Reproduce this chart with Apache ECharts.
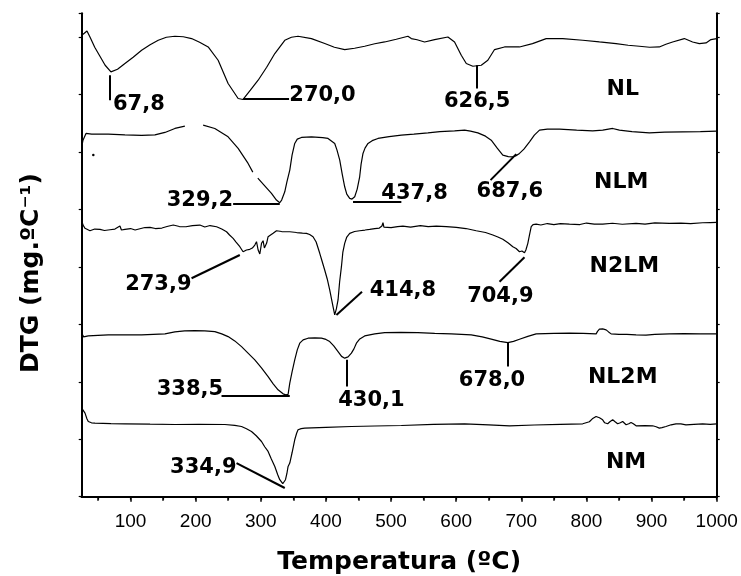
<!DOCTYPE html>
<html><head><meta charset="utf-8">
<script src="https://cdn.jsdelivr.net/npm/echarts@6/dist/echarts.min.js"></script>
<style>html,body{margin:0;padding:0;background:#fff}#c{width:741px;height:576px}</style>
</head><body><div id="c"></div>
<script>
// x tick labels (°C)
const xTickLabels = [100,200,300,400,500,600,700,800,900,1000];
const xMinorTicks = [50,150,250,350,450,550,650,750,850,950];
const xTopTicks = [50,100,150,200,250,300,350,400,450,500,550,600,650,700,750,800,850,900,950,1000];

// DTG curves (temperature °C, stacked DTG signal in arbitrary offset units)
const curveNL = [[25,462],[29,464],[33.1,466.3],[37.7,460.3],[45,450],[53,441],[61,432],[69.9,425.3],[80,428],[91.4,433.7],[104,440],[117,447],[130,452.5],[142.5,457],[155,460],[168.1,461],[181,460.5],[193.7,458.7],[206,455],[219.2,450.3],[234.5,437],[249.8,413.7],[265.2,398.7],[272.8,397.7],[284,407],[295.9,417],[309,430],[321.5,443.7],[336.8,457],[347,460],[357.2,461],[377.8,458.7],[398.2,453.7],[413,450],[428.8,447.7],[444,449],[459.5,451],[475,453.5],[490.2,455.3],[508,458],[525.9,461],[531.1,458.7],[540,457.5],[551.5,455.3],[566.9,457.7],[587.3,460.3],[597.5,455.3],[607.8,442],[615.5,433.7],[625.6,431],[632,431.5],[638.5,432],[648.6,437],[658.9,447.7],[674.2,450.3],[697.2,450.3],[717.2,453.7],[738.2,458.7],[763.6,458.7],[794.3,457],[819.9,455.3],[845.5,453.7],[864,452],[881.3,451],[897,450],[911.9,450.3],[922,453],[932.3,455.3],[950.3,458.7],[963,455.3],[973.3,453.7],[983.6,454.3],[991.2,457.7],[1000,458.7]];
const curveNLM = [[25,350.3],[27,357],[31.6,363.7],[40.3,363],[65.8,363],[91.4,362.3],[117,361.7],[137.4,362.3],[152.8,364.7],[168.1,368.7],[183.4,371],[184.5,null],[211.5,372],[229.4,368.7],[249.8,360.3],[265.2,348.7],[280.5,333.7],[287.7,325],[290,null],[295.4,319],[305,312],[316.4,303.7],[324,297],[329.1,294.3],[332,297],[336.8,305.3],[340,315],[344.5,327],[348,342],[352.1,353.7],[356,358],[362.4,359.7],[377.8,360.3],[395,359.5],[403.2,358.7],[413.5,353.7],[417,347],[421.2,337],[425,323],[428.8,310.3],[432,303],[436.5,298.7],[440,298],[444.2,300.3],[448,308],[451.8,320.3],[454,333],[456.9,343.7],[460,349],[464.6,353.7],[471,356.5],[479.9,358.7],[497,360.5],[515.8,362],[535,363],[556.6,364.3],[575,365.5],[597.5,366.3],[612.9,367],[622,366],[633.3,364.3],[645,361],[653.8,357],[663,349],[671.6,342],[680,340.5],[687,340.3],[692,341.5],[697.2,343.7],[704,348],[712.6,355.3],[720,362],[727.9,367],[740,368],[758.6,368],[785,367],[809.6,366.3],[825,367],[840.3,368.7],[850.6,367],[870,365.5],[896.6,364.3],[920,365],[947.7,365.3],[975,365.5],[1000,366]];
const curveN2LM = [[25,277],[27,272],[30.1,268.7],[37.7,266.3],[45,268],[53.1,267.7],[60,266.5],[68.4,267.3],[76,268],[83.7,271],[86,267],[91.4,267.7],[100,268.5],[107,267],[114.4,268.3],[122,269.5],[129.8,269.7],[138,268.5],[148.2,269],[156,270.5],[165.5,272],[175,270.5],[185,270.3],[195,271.5],[206.4,272],[214,270],[222,271.5],[232.1,270.3],[240,268],[247.4,265.3],[252,262],[257.5,258.7],[262,255],[267.8,250.3],[272.8,245.3],[278,247],[283.1,247.7],[287,249],[290.8,252],[293.4,255.3],[295.9,247],[298.5,243],[301.1,253.7],[303.5,256.3],[305.5,249],[307.2,247],[309,254],[311.2,260.3],[315,262],[318.9,263.7],[324.1,266.3],[332,265.5],[344.5,265.3],[355,264.5],[364,264],[370.1,263.7],[375,262.5],[380.2,260.3],[385,255],[390.5,243.7],[394,236],[398.1,227],[402,218],[405.8,207],[410.9,190.3],[413.5,182],[416,188],[418.6,197],[421,215],[423.8,230.3],[426,245],[428.8,253.7],[432,260],[436.5,263.7],[444,265.5],[451.8,266.3],[460,267],[467.2,267.7],[475,268.5],[482,269],[486,271],[487.6,274.3],[489,270],[490.2,268.7],[500,269.5],[510,270.5],[518.2,271],[530,270],[545,271.5],[557,270.5],[569.5,271],[585,270.5],[600.1,269.7],[615,268.5],[630.8,266.3],[645,264.5],[656.3,262],[664,260],[671.6,257.7],[680,254],[687,250.3],[692,248.5],[697.2,245.3],[701,246],[704.9,244.3],[707,247],[710,253.7],[712.5,262],[715.2,270.3],[718,272.5],[722.8,273],[730,272],[740,273.5],[750,272.5],[760,273.5],[773.9,273],[790,272.5],[800,274],[812,273],[825,273],[840,273.8],[855,272.8],[876.2,273.7],[890,273],[905,274.2],[927.3,273.7],[945,274],[960,273.5],[978.4,274.3],[990,274.5],[1000,274.7]];
const curveNL2M = [[25,163.7],[28,160],[30.1,161],[35.1,161],[50,161.5],[65.8,162],[91,162],[117,162],[135,162.5],[152.8,163],[168.1,165],[183,166],[198.8,166.3],[214,166],[229.4,165.3],[240,163],[249.8,160.3],[260,156],[270.4,150.3],[280,144],[290.8,137],[301,129],[311.2,120.3],[319,113],[326.5,107],[334.2,103],[338.5,102],[341.9,102.5],[344.5,113.7],[348,125],[352.1,137],[356,147],[359.8,153.7],[365,157],[372.5,158.7],[383,159],[393.1,158.7],[400,157.5],[405.8,155.3],[412,151],[418.6,145.3],[424,140.5],[428.8,138.7],[434,140],[439.1,143.7],[443,148],[446.8,153.7],[452,158],[459.5,161],[475,163],[490.2,164.3],[515,164.5],[541.2,164.3],[567,163.5],[592.5,163],[608,162.5],[623.1,162],[640,160],[653.8,157.7],[667,155.5],[679.3,154.3],[688,155.5],[697.2,157.7],[710,160.5],[722.8,163],[750,163.5],[773.9,163.7],[795,163.5],[814.9,163],[817,165.5],[819.9,167.7],[825,168],[830.2,167],[834,165],[837.9,163],[850,162.5],[862,162.5],[876.2,162],[891.5,161.7],[905,162.5],[927.3,163],[950,163.2],[975,163],[1000,163]];
const curveNM = [[25,88.7],[27,87.5],[30.1,83.7],[33,78],[35.1,75.3],[40,74],[45.4,73.7],[70,73.2],[91.4,73],[130,72.6],[168.1,72.3],[205,72.5],[244.8,72.3],[260,71.5],[270.4,70.3],[278,68],[285.7,65.3],[293,61],[301.1,55.3],[306,50],[311.2,45.3],[316,38],[321.5,30.3],[326,22],[329.1,17],[333.7,13],[336,14],[337.9,17],[340,23],[341.9,30.3],[344.5,33.7],[348,44],[352.1,57],[355,63.5],[357.2,67],[362,68.2],[367.5,68.7],[400,69.5],[439.1,70.3],[475,70.8],[515.8,71.3],[565,72.5],[612.9,73],[650,72],[681.9,71],[720,71.8],[760,72.5],[794.3,73],[804.5,75],[809,78],[814.8,80.3],[820,79],[824.9,77],[828,74],[832.6,73],[836,75],[840.3,77],[844,75],[847.9,73],[852,74],[855.6,75.3],[860.9,72],[865,73],[868.5,74.3],[872,73],[876.2,71],[890,71.2],[901.6,71],[907,70],[911.9,68.7],[916,69.2],[922.1,70.3],[930,72],[937.5,73],[945,73],[952.8,72],[965,72.5],[978.4,73],[990,72.5],[1000,73]];
const strayPoints = [[42.8,342]];

// peak annotations: text, anchor temperature, anchor level, alignment
const peakTexts = ['67,8','270,0','626,5','329,2','437,8','687,6','273,9','414,8','704,9','338,5','430,1','678,0','334,9'];
const peakTemps = [73,343.7,632.3,257.5,485.1,682.3,193.7,467.2,667.8,242.2,469.8,655,262.7];
const peakLevels = [393,402,395.3,296.2,303.3,306,212,206.2,200.7,107,96.2,116.2,29.5];
const peakAligns = ['left','left','center','right','left','center','right','left','center','right','center','center','right'];
// leader lines [T1, level1, T2, level2]
const leaders = [[68.4,422,68.4,397],[272.8,398,343.4,398],[632.3,432,632.3,408.7],[257.5,293.7,329.1,293.7],[441.6,295.3,515.8,295.3],[652.7,317,692.2,343],[193.7,218.7,267.8,242],[416.1,182,455.4,205.3],[704.9,239.7,666.5,215.3],[239.7,101.3,344.5,101.3],[431.4,137,431.4,110.3],[679.3,154.3,679.3,130.3],[262.7,33.7,336.8,8.7]];
// sample names
const sampleNames = ['NL','NLM','N2LM','NL2M','NM'];
const nameTemps = [855.7,853.4,858.3,855.7,860.9];
const nameLevels = [408.2,315.3,230.3,119.5,34.5];

const chart = echarts.init(document.getElementById('c'), null, {renderer:'canvas'});
const boldFont = 'DejaVu Sans';
const curves = [curveNL, curveNLM, curveN2LM, curveNL2M, curveNM];

const series = curves.map((d, i) => ({
  type: 'line', name: sampleNames[i], data: d, showSymbol: false, symbol: 'none',
  connectNulls: false, silent: true,
  lineStyle: {color: '#000', width: 1.2}
}));
series.push({
  type: 'scatter', data: strayPoints, symbolSize: 2.5, itemStyle: {color: '#000', opacity: 1}, silent: true
});
series.push({
  type: 'lines', coordinateSystem: 'cartesian2d', silent: true,
  data: leaders.map(l => ({coords: [[l[0], l[1]], [l[2], l[3]]]})),
  lineStyle: {color: '#000', width: 2, opacity: 1}
});
const textLabelStyle = {show: true, position: 'inside', formatter: p => p.name, verticalAlign: 'middle',
  fontFamily: boldFont, fontWeight: 'bold', color: '#000', opacity: 1, textBorderWidth: 0};
series.push({
  type: 'scatter', silent: true, symbolSize: 1, itemStyle: {color: 'rgba(255,255,255,0)', opacity: 1},
  data: peakTexts.map((t, i) => ({value: [peakTemps[i], peakLevels[i]], name: t,
    label: {align: peakAligns[i]}})),
  label: Object.assign({}, textLabelStyle, {fontSize: 21})
});
series.push({
  type: 'scatter', silent: true, symbolSize: 1, itemStyle: {color: 'rgba(255,255,255,0)', opacity: 1},
  data: sampleNames.map((t, i) => ({value: [nameTemps[i], nameLevels[i]], name: t})),
  label: Object.assign({}, textLabelStyle, {fontSize: 22, align: 'center'})
});

const axisLine = {show: true, lineStyle: {color: '#000', width: 2}};
chart.setOption({
  animation: false,
  backgroundColor: '#fff',
  grid: {left: 81.7, right: 24.3, top: 13.3, bottom: 79.3, containLabel: false, outerBoundsMode: 'none'},
  xAxis: [
    {type: 'value', position: 'bottom', min: 25, max: 1000, axisLine,
     axisTick: {show: true, inside: false, length: 5, customValues: xTickLabels, lineStyle: {color: '#000', width: 1.5}},
     axisLabel: {show: true, customValues: xTickLabels, margin: 16, formatter: v => String(v),
       fontFamily: 'Liberation Sans', fontSize: 19, color: '#000'},
     splitLine: {show: false},
     name: 'Temperatura (ºC)', nameLocation: 'middle', nameGap: 53,
     nameTextStyle: {fontFamily: boldFont, fontWeight: 'bold', fontSize: 25, color: '#000'}},
    {type: 'value', position: 'top', min: 25, max: 1000, axisLine,
     axisTick: {show: true, inside: true, length: 3, customValues: xTopTicks, lineStyle: {color: '#000', width: 1.2}},
     axisLabel: {show: false}, splitLine: {show: false}},
    {type: 'value', position: 'bottom', min: 25, max: 1000, axisLine: {show: false},
     axisTick: {show: true, inside: false, length: 4, customValues: xMinorTicks, lineStyle: {color: '#000', width: 1.5}},
     axisLabel: {show: false}, splitLine: {show: false}}
  ],
  yAxis: [
    {type: 'value', position: 'left', min: 0, max: 484, interval: 57.5, axisLine,
     axisTick: {show: true, inside: false, length: 3, lineStyle: {color: '#000', width: 1.2}},
     axisLabel: {show: false}, splitLine: {show: false},
     name: 'DTG (mg.ºC⁻¹)', nameLocation: 'middle', nameGap: 38, nameRotate: 90,
     nameTextStyle: {fontFamily: boldFont, fontWeight: 'bold', fontSize: 25, color: '#000', padding: [0, 36, 0, 0]}},
    {type: 'value', position: 'right', min: 0, max: 484, interval: 57.5, axisLine,
     axisTick: {show: true, inside: false, length: 3, lineStyle: {color: '#000', width: 1.2}},
     axisLabel: {show: false}, splitLine: {show: false}}
  ],
  series: series
});
</script>
</body></html>
